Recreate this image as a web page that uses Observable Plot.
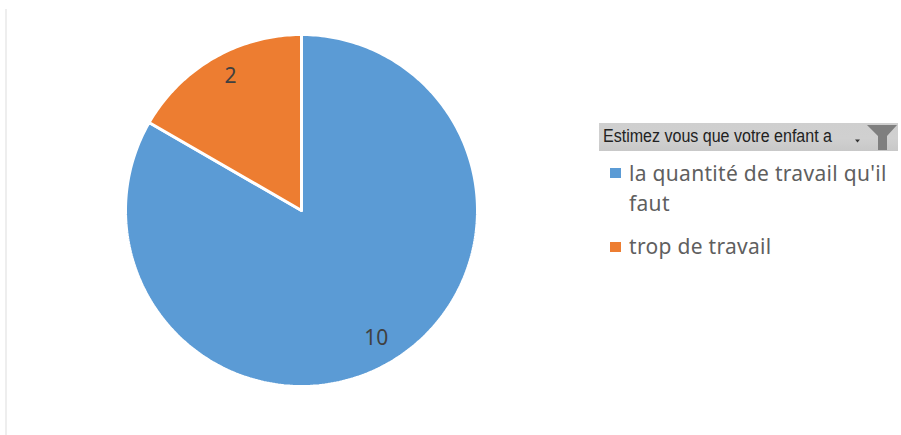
<!DOCTYPE html>
<html lang="fr">
<head>
<meta charset="utf-8">
<script src="https://cdn.jsdelivr.net/npm/d3@7"></script>
<script src="https://cdn.jsdelivr.net/npm/@observablehq/plot@0.6"></script>
<style>
html,body{margin:0;padding:0;background:#fff;}
#wrap{position:relative;width:901px;height:435px;overflow:hidden;background:#fff;}
#wrap>svg{position:absolute;left:0;top:0;}
#rule{position:absolute;left:5px;top:9px;width:2px;height:426px;background:#eeeeee;}
#head{position:absolute;left:599px;top:123px;width:299px;height:28px;background:linear-gradient(#cfcfcf,#d0d0d0 55%,#c8c8c8);}
#head span{position:absolute;left:4px;top:3px;font:17.5px/20px "Liberation Sans",sans-serif;color:#222;white-space:nowrap;transform-origin:0 50%;}
#head svg{position:absolute;left:0;top:0;}
.item{position:absolute;left:629px;width:268px;font:21px/30px "Noto Sans",sans-serif;color:#5f5f5f;letter-spacing:.3px;}
.sw{position:absolute;left:610px;width:11px;height:10px;}
</style>
</head>
<body>
<div id="wrap"></div>
<script>
const categories = ["la quantité de travail qu'il faut", "trop de travail"];
const values = [10, 2];
const colors = ["#5b9bd5", "#ed7d31"];
const legendTitle = "Estimez vous que votre enfant a";

const arcs = d3.pie().sort(null)(values);
const outline = [];
arcs.forEach((a, i) => {
  const steps = Math.ceil((a.endAngle - a.startAngle) * 60);
  outline.push({slice: i, x: 0, y: 0});
  for (let k = 0; k <= steps; k++) {
    const t = a.startAngle + (a.endAngle - a.startAngle) * k / steps;
    outline.push({slice: i, x: Math.sin(t), y: Math.cos(t)});
  }
  outline.push({slice: i, x: 0, y: 0});
});
const labels = arcs.map((a, i) => {
  const m = (a.startAngle + a.endAngle) / 2 + (i === 1 ? 0.03 : 0);
  return {text: String(values[i]), x: 0.85 * Math.sin(m), y: 0.85 * Math.cos(m)};
});

const chart = Plot.plot({
  width: 901,
  height: 435,
  margin: 0,
  style: {background: "transparent"},
  x: {domain: [-1, 1], range: [125, 477], axis: null},
  y: {domain: [-1, 1], range: [386, 34], axis: null},
  marks: [
    Plot.line(outline, {
      x: "x", y: "y", z: "slice",
      fill: d => colors[d.slice],
      stroke: "#ffffff", strokeWidth: 3, strokeLinejoin: "miter"
    }),
    Plot.text(labels, {
      x: "x", y: "y", text: "text", dy: -2,
      fontSize: 21, fontFamily: "Noto Sans, sans-serif", fill: "#404040"
    })
  ]
});

const wrap = document.getElementById("wrap");
wrap.appendChild(chart);
const add = (html) => wrap.insertAdjacentHTML("beforeend", html);
add('<div id="rule"></div>');
add(`<div id="head"><span id="ht">${legendTitle}</span>
<svg width="299" height="28"><path d="M268 2H298L288 13V27H279V13Z" fill="#7f7f7f"/><path d="M256 16.5h5l-2.5 3z" fill="#333"/></svg></div>`);
add(`<div class="sw" style="top:168px;background:${colors[0]}"></div>`);
add(`<div class="item" style="top:158px">${categories[0]}</div>`);
add(`<div class="sw" style="top:242px;background:${colors[1]}"></div>`);
add(`<div class="item" style="top:231px">${categories[1]}</div>`);
const ht = document.getElementById("ht");
ht.style.transform = `scaleX(${229 / ht.offsetWidth})`;
</script>
</body>
</html>
